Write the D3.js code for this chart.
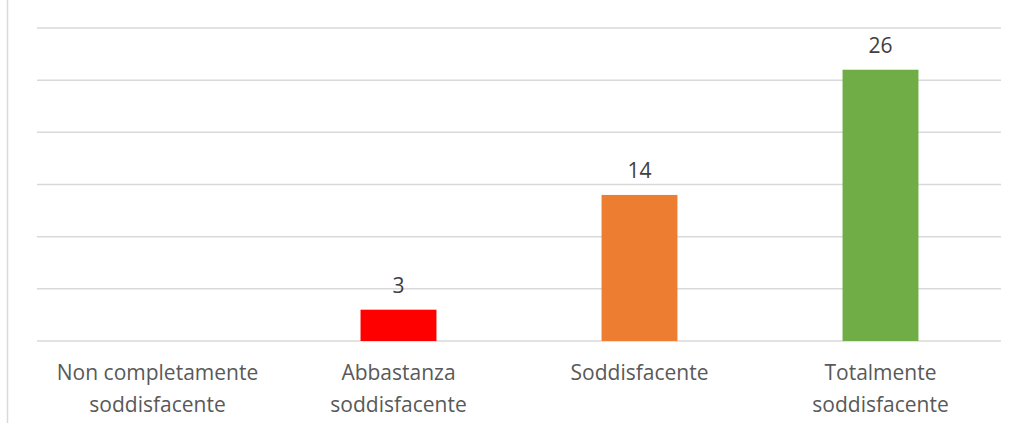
<!DOCTYPE html>
<html>
<head>
<meta charset="utf-8">
<script src="https://cdn.jsdelivr.net/npm/d3@7"></script>
<style>
  html, body { margin: 0; padding: 0; background: #ffffff; }
  svg { display: block; }
</style>
</head>
<body>
<svg id="chart" width="1017" height="423"></svg>
<script>
const categories = [
  ["Non completamente", "soddisfacente"],
  ["Abbastanza", "soddisfacente"],
  ["Soddisfacente"],
  ["Totalmente", "soddisfacente"]
];
const values = [0, 3, 14, 26];
const barColors = ["#7F7F7F", "#FF0000", "#ED7D31", "#70AD47"];
const yTicks = [0, 5, 10, 15, 20, 25, 30];

const svg = d3.select("#chart");
const W = 1017, H = 423;
const plot = { left: 37, right: 1001, top: 28, bottom: 341 };

// outer frame line on the left
svg.append("line")
  .attr("x1", 7.5).attr("x2", 7.5)
  .attr("y1", 0).attr("y2", H)
  .attr("stroke", "#D9D9D9").attr("stroke-width", 1.5);

const x = d3.scaleBand()
  .domain(d3.range(categories.length))
  .range([plot.left, plot.right])
  .paddingInner(0.685)
  .paddingOuter(0.3425);

const y = d3.scaleLinear()
  .domain([0, 30])
  .range([plot.bottom, plot.top]);

// gridlines
svg.append("g").selectAll("line")
  .data(yTicks)
  .join("line")
  .attr("x1", plot.left).attr("x2", plot.right)
  .attr("y1", d => y(d)).attr("y2", d => y(d))
  .attr("stroke", "#D9D9D9").attr("stroke-width", 1.5);

// bars
svg.append("g").selectAll("rect")
  .data(values)
  .join("rect")
  .attr("x", (d, i) => x(i))
  .attr("width", x.bandwidth())
  .attr("y", d => y(d))
  .attr("height", d => y(0) - y(d))
  .attr("fill", (d, i) => barColors[i]);

// value labels
svg.append("g").selectAll("text")
  .data(values.map((v, i) => ({ v, i })).filter(d => d.v > 0))
  .join("text")
  .attr("x", d => x(d.i) + x.bandwidth() / 2)
  .attr("y", d => y(d.v) - 17)
  .attr("text-anchor", "middle")
  .attr("font-family", "'Open Sans', sans-serif")
  .attr("font-size", 21)
  .attr("fill", "#404040")
  .text(d => d.v);

// category labels
const catG = svg.append("g");
categories.forEach((lines, i) => {
  const t = catG.append("text")
    .attr("text-anchor", "middle")
    .attr("font-family", "'Open Sans', sans-serif")
    .attr("font-size", 21)
    .attr("fill", "#595959");
  lines.forEach((ln, j) => {
    t.append("tspan")
      .attr("x", x(i) + x.bandwidth() / 2)
      .attr("y", 380 + j * 32)
      .text(ln);
  });
});
</script>
</body>
</html>
